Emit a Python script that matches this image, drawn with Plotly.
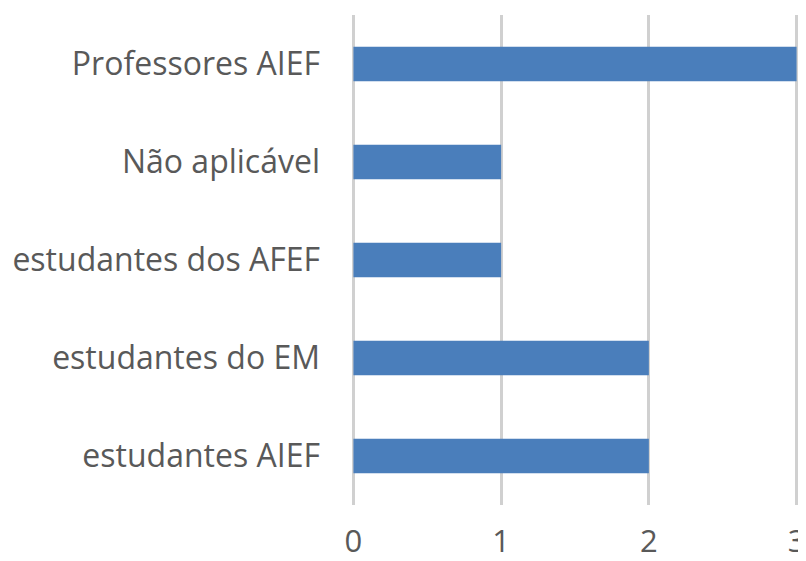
import plotly.graph_objects as go

categories = ["estudantes AIEF", "estudantes do EM", "estudantes dos AFEF", "Não aplicável", "Professores AIEF"]
values = [2, 2, 1, 1, 3]
tick_vals = [0, 1, 2, 3]

font_family = "Open Sans"
text_color = "#595959"

fig = go.Figure(
    go.Bar(
        x=values,
        y=categories,
        orientation="h",
        marker=dict(color="#4a7ebb", line=dict(width=0)),
        hoverinfo="skip",
    )
)

# the page body adds an 8px offset, so the figure is a bit smaller than the window
fig.update_layout(
    width=798,
    height=553,
    margin=dict(l=341, r=5, t=7, b=56),
    paper_bgcolor="white",
    plot_bgcolor="white",
    bargap=0.65,
    showlegend=False,
    font=dict(family=font_family, size=32, color=text_color),
)

fig.update_xaxes(
    range=[-0.03, 3.03],
    tickvals=tick_vals,
    showgrid=True,
    gridcolor="#d0d0d0",
    gridwidth=3,
    zeroline=False,
    showline=False,
    ticks="",
    automargin=False,
    ticklabelstandoff=15,
    tickfont=dict(size=31, color=text_color),
)

fig.update_yaxes(
    showgrid=False,
    zeroline=False,
    showline=False,
    ticks="",
    automargin=False,
    ticklabelstandoff=28,
    tickfont=dict(size=32, color=text_color),
)

fig.write_html("out.html")
